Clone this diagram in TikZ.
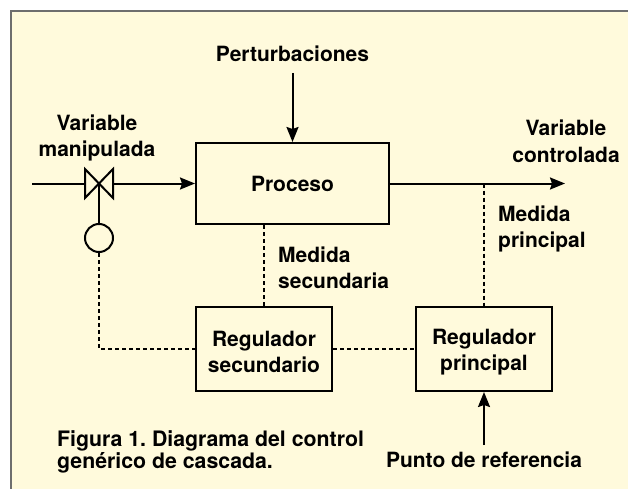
\documentclass[tikz,border=0pt]{standalone}
\usepackage{fontspec}
\setmainfont{TeX Gyre Heros}
\usetikzlibrary{arrows.meta,calc}
\definecolor{cream}{HTML}{FFFADC}
\definecolor{framegray}{HTML}{6E6E6E}
\frenchspacing
\begin{document}
\begin{tikzpicture}[x=1pt,y=-1pt,
  lab/.style={font=\bfseries\fontsize{21}{26}\selectfont, inner sep=0pt, align=center},
  blk/.style={draw, line width=2pt, fill=cream, minimum width=136pt, minimum height=84pt,
              inner sep=0pt, align=center, font=\bfseries\fontsize{21}{26}\selectfont},
  ln/.style={line width=2pt},
  arr/.style={line width=2pt, -{Stealth[length=15pt,width=12pt,inset=2pt]}},
  dsh/.style={line width=2pt, dash pattern=on 4pt off 3pt}]
\useasboundingbox (0,0) rectangle (628,489);
\fill[white] (0,0) rectangle (628,489);
\fill[cream] (11,11) rectangle (640,500);
\draw[framegray, line width=2pt] (11,500) -- (11,11) -- (640,11);

% blocks
\node[blk, minimum width=193pt, minimum height=81pt] (proc) at (292.5,183.5) {\rule{0pt}{17pt}Proceso};
\node[blk] (rs) at (264,349) {\rule{0pt}{21pt}Regulador\\secundario};
\node[blk] (rp) at (484,349) {\rule{0pt}{21pt}Regulador\\principal};
\node[draw, circle, line width=2pt, minimum size=28pt, inner sep=0pt, fill=cream] (act) at (99,238) {};

% labels (base anchor = baseline of last line)
\node[lab, anchor=base] (pert) at (292.5,62) {Perturbaciones};
\node[lab, anchor=base] (vman) at (97,157) {Variable\\manipulada};
\node[lab, anchor=base] (vcon) at (566,162) {Variable\\controlada};
\node[lab, anchor=base west, align=left] (msec) at (278,288) {Medida\\secundaria};
\node[lab, anchor=base west, align=left] (mpri) at (498,247) {Medida\\principal};
\node[lab, anchor=base] (pref) at (484,467) {Punto de referencia};
\node[lab, anchor=base west, align=left, font=\bfseries\fontsize{21.3}{19}\selectfont] (capt) at (57,468)
  {Figura 1. Diagrama del control\\genérico de cascada.};

% coordinates
\coordinate (inp) at (32,183.5);
\coordinate (valve) at (99,183.5);
\coordinate (out) at (565,183.5);
\coordinate (tap) at (484,183.5);
\coordinate (ptop) at (292.5,73);
\coordinate (rbot) at (484,445);

% solid connectors
\draw[ln] (inp) -- ($(valve)+(-14,0)$);
\draw[arr] ($(valve)+(14,0)$) -- (proc.west);
\draw[ln, fill=cream] ($(valve)+(-14,-14.5)$) -- ($(valve)+(14,14.5)$) -- ($(valve)+(14,-14.5)$) -- ($(valve)+(-14,14.5)$) -- cycle;
\draw[ln] (valve) -- (act.north);
\draw[arr] (proc.east) -- (out);
\draw[arr] (ptop) -- (proc.north);
\draw[arr] (rbot) -- (rp.south);

% dashed connectors
\draw[dsh] (act.south) |- (rs.west);
\draw[dsh] (rs.north |- proc.south) -- (rs.north);
\draw[dsh] (rs.east) -- (rp.west);
\draw[dsh] (tap) -- (rp.north);
\end{tikzpicture}
\end{document}
